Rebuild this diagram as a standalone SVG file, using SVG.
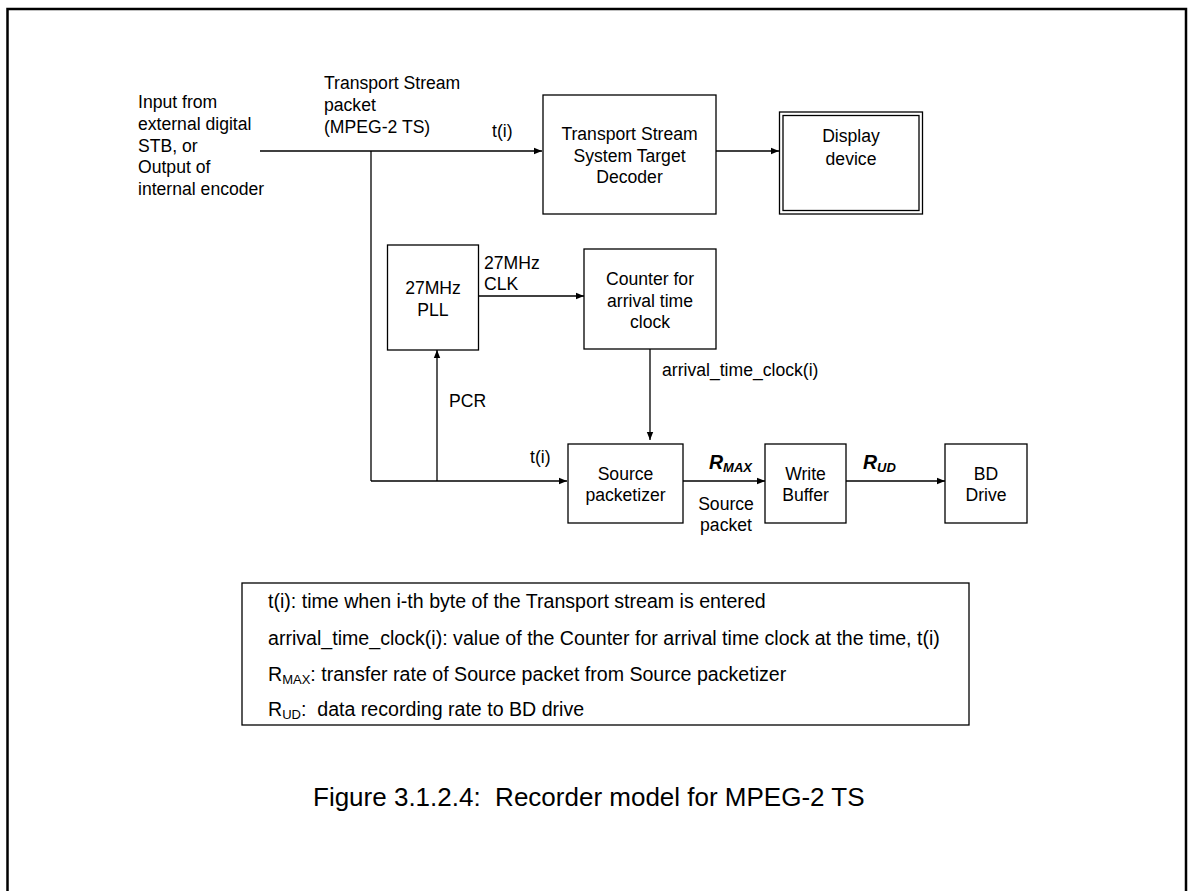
<svg xmlns="http://www.w3.org/2000/svg" width="1192" height="891" viewBox="0 0 1192 891">
<defs>
<marker id="ah" viewBox="0 0 10 10" refX="10" refY="5" markerWidth="8" markerHeight="8" markerUnits="userSpaceOnUse" orient="auto">
<path d="M0,1 L10,5 L0,9 Z" fill="#000"/>
</marker>
</defs>
<style>
text{font-family:"Liberation Sans",Arial,sans-serif;fill:#000}
.t{font-size:17.6px}
.c{text-anchor:middle}
.lg{font-size:19.6px}
.box{fill:none;stroke:#000;stroke-width:1.3}
.ln{fill:none;stroke:#000;stroke-width:1.3}
.ar{marker-end:url(#ah)}
.b{font-weight:bold;font-style:italic}
</style>
<rect x="0" y="0" width="1192" height="891" fill="#fff"/>
<path d="M7.5,900 V9 H1186 V900" fill="none" stroke="#000" stroke-width="2.5"/>

<g id="input-label">
<text class="t" x="138" y="108">Input from</text>
<text class="t" x="138" y="130">external digital</text>
<text class="t" x="138" y="151.5">STB, or</text>
<text class="t" x="138" y="173">Output of</text>
<text class="t" x="138" y="194.5">internal encoder</text>
</g>
<g id="ts-label">
<text class="t" x="324" y="89">Transport Stream</text>
<text class="t" x="324" y="111">packet</text>
<text class="t" x="324" y="133">(MPEG-2 TS)</text>
</g>

<g id="connectors">
<line class="ln ar" x1="260" y1="151" x2="542" y2="151"/>
<polyline class="ln" points="371,151 371,481"/>
<line class="ln ar" x1="371" y1="481" x2="567" y2="481"/>
<line class="ln ar" x1="437" y1="481" x2="437" y2="350"/>
<line class="ln ar" x1="716" y1="151" x2="779" y2="151"/>
<line class="ln ar" x1="479" y1="296" x2="584" y2="296"/>
<line class="ln ar" x1="650" y1="349" x2="650" y2="440"/>
<line class="ln ar" x1="683" y1="481" x2="765" y2="481"/>
<line class="ln ar" x1="846" y1="481" x2="945" y2="481"/>
<text class="t" x="492" y="137">t(i)</text>
<text class="t" x="484" y="269">27MHz</text>
<text class="t" x="484" y="290">CLK</text>
<text class="t" x="662" y="376">arrival_time_clock(i)</text>
<text class="t" x="449" y="407">PCR</text>
<text class="t" x="530" y="463">t(i)</text>
<text class="b" x="709" y="469" font-size="19.5">R<tspan font-size="13" dy="3">MAX</tspan></text>
<text class="t c" x="726" y="510">Source</text>
<text class="t c" x="726" y="531">packet</text>
<text class="b" x="863" y="469" font-size="19.5">R<tspan font-size="13" dy="3">UD</tspan></text>
</g>

<g id="ts-std">
<rect class="box" x="543" y="95" width="173" height="119"/>
<text class="t c" x="629.5" y="140">Transport Stream</text>
<text class="t c" x="629.5" y="162">System Target</text>
<text class="t c" x="629.5" y="183">Decoder</text>
</g>
<g id="display">
<rect class="box" x="779.5" y="112" width="143" height="102"/>
<rect class="box" x="783" y="115.5" width="136" height="95"/>
<text class="t c" x="851" y="142">Display</text>
<text class="t c" x="851" y="165">device</text>
</g>
<g id="pll">
<rect class="box" x="387.5" y="245" width="91" height="105"/>
<text class="t c" x="433" y="294">27MHz</text>
<text class="t c" x="433" y="316">PLL</text>
</g>
<g id="counter">
<rect class="box" x="584" y="249" width="132" height="100"/>
<text class="t c" x="650" y="285">Counter for</text>
<text class="t c" x="650" y="307">arrival time</text>
<text class="t c" x="650" y="328">clock</text>
</g>
<g id="packetizer">
<rect class="box" x="568" y="444" width="115" height="79"/>
<text class="t c" x="625.5" y="480">Source</text>
<text class="t c" x="625.5" y="501">packetizer</text>
</g>
<g id="write-buffer">
<rect class="box" x="765" y="444" width="81" height="79"/>
<text class="t c" x="805.5" y="480">Write</text>
<text class="t c" x="805.5" y="501">Buffer</text>
</g>
<g id="bd-drive">
<rect class="box" x="945" y="444" width="82" height="79"/>
<text class="t c" x="986" y="480">BD</text>
<text class="t c" x="986" y="501">Drive</text>
</g>

<g id="legend">
<rect class="box" x="242" y="583" width="727" height="142"/>
<text class="lg" x="268" y="608">t(i): time when i-th byte of the Transport stream is entered</text>
<text class="lg" x="268" y="645">arrival_time_clock(i): value of the Counter for arrival time clock at the time, t(i)</text>
<text class="lg" x="268" y="681">R<tspan font-size="13" dy="3">MAX</tspan><tspan dy="-3">: transfer rate of Source packet from Source packetizer</tspan></text>
<text class="lg" x="268" y="716" style="white-space:pre">R<tspan font-size="13" dy="3">UD</tspan><tspan dy="-3">:  data recording rate to BD drive</tspan></text>
</g>

<text id="caption" x="313" y="806" font-size="26" style="white-space:pre">Figure 3.1.2.4:  Recorder model for MPEG-2 TS</text>
</svg>
